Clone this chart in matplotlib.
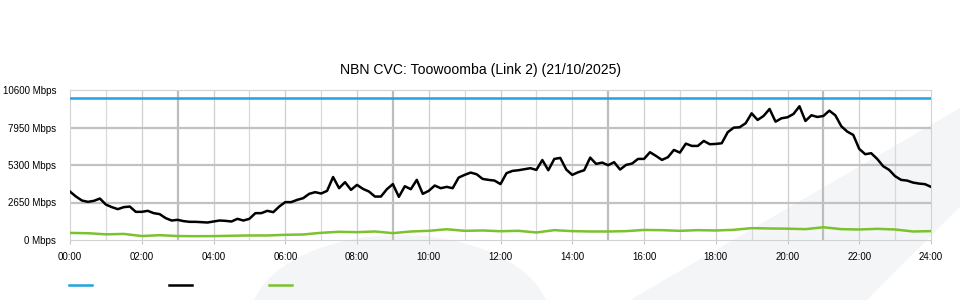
import numpy as np
import matplotlib
matplotlib.use('Agg')
import matplotlib.pyplot as plt
from matplotlib.lines import Line2D
from matplotlib.patches import Polygon, Ellipse

plt.rcParams['font.family'] = ['Liberation Sans', 'DejaVu Sans']

title = 'NBN CVC: Toowoomba (Link 2) (21/10/2025)'

# traffic, Mbps, one sample every 10 minutes from 00:00 to 24:00
traffic_in = [
    3423, 3070, 2788, 2696, 2766, 2929, 2505, 2322, 2181, 2322,
    2364, 1990, 1990, 2060, 1898, 1828, 1545, 1376, 1425, 1334,
    1284, 1284, 1263, 1236, 1307, 1377, 1354, 1307, 1495, 1377,
    1495, 1897, 1897, 2061, 1967, 2366, 2677, 2677, 2837, 2955,
    3262, 3380, 3285, 3474, 4450, 3662, 4087, 3543, 3895, 3613,
    3425, 3070, 3070, 3590, 3950, 3050, 3800, 3590, 4250, 3262,
    3473, 3848, 3660, 3755, 3660, 4411, 4601, 4764, 4649, 4319,
    4248, 4199, 3950, 4721, 4883, 4930, 5003, 5074, 4954, 5650,
    4930, 5730, 5800, 4977, 4601, 4791, 4930, 5822, 5377, 5471,
    5285, 5497, 4977, 5307, 5400, 5730, 5730, 6203, 5942, 5660,
    5850, 6365, 6175, 6810, 6648, 6648, 7000, 6768, 6789, 6838,
    7615, 7939, 7967, 8250, 8950, 8483, 8765, 9259, 8363, 8602,
    8673, 8906, 9449, 8412, 8814, 8694, 8765, 9139, 8810, 8038,
    7657, 7424, 6436, 6062, 6133, 5730, 5215, 4954, 4509, 4248,
    4199, 4058, 3987, 3945, 3755,
]
# upload, one sample every 30 minutes
traffic_out = [
    500, 480, 400, 430, 280, 340, 280, 270, 275, 300,
    320, 320, 367, 390, 508, 579, 555, 602, 484, 602,
    649, 760, 649, 673, 620, 649, 531, 696, 626, 602,
    602, 626, 710, 696, 649, 696, 673, 720, 838, 814,
    800, 767, 900, 767, 743, 790, 743, 602, 626,
]
capacity = [10000, 10000]
capacity_times = [0, 24]

in_times = np.arange(len(traffic_in)) / 6.0
out_times = np.arange(len(traffic_out)) / 2.0

y_ticks = [0, 2650, 5300, 7950, 10600]
x_ticks = list(range(0, 25, 2))
x_labels = ['{:02d}:00'.format(h) for h in x_ticks]

c_blue = '#22a3dd'
c_black = '#000000'
c_green = '#7cc12e'

fig = plt.figure(figsize=(9.6, 3.0), dpi=100)

# faint watermark shapes behind the chart (pixel coords -> figure fraction)
def px(pts):
    return [(x / 960, 1 - y / 300) for x, y in pts]

wm = '#f4f5f7'
fig.patches.append(Polygon(px([(630, 300), (960, 108), (960, 207), (867, 300)]),
                           closed=True, fc=wm, ec='none', transform=fig.transFigure, zorder=0))
fig.patches.append(Ellipse((400 / 960, 1 - 320 / 300), 300 / 960, 170 / 300,
                           fc=wm, ec='none', transform=fig.transFigure, zorder=0))

ax = fig.add_axes([70 / 960, 60 / 300, 861 / 960, 150 / 300])
ax.set_zorder(2)
ax.patch.set_alpha(0)

# grid
for h in range(1, 24):
    if h % 6 == 3:
        ax.axvline(h, color='#bdbdbd', lw=1.6, zorder=1)
    elif h % 2 == 0:
        ax.axvline(h, color='#cfcfcf', lw=0.9, zorder=1)
    else:
        ax.axvline(h, color='#d9d9d9', lw=0.9, zorder=1)
for v in y_ticks[1:-1]:
    ax.axhline(v, color='#c2c2c2', lw=1.6, zorder=1)

ax.plot(capacity_times, capacity, color=c_blue, lw=1.8, zorder=3)
ax.plot(out_times, traffic_out, color=c_green, lw=1.8, zorder=3)
ax.plot(in_times, traffic_in, color=c_black, lw=1.8, zorder=4)

ax.set_xlim(0, 24)
ax.set_ylim(0, 10600)
ax.set_xticks(x_ticks)
ax.set_xticklabels(x_labels, fontsize=7.0)
ax.set_yticks(y_ticks)
ax.set_yticklabels(['{} Mbps'.format(v) for v in y_ticks], fontsize=7.0)
ax.tick_params(axis='x', length=3, color='#c8c8c8', pad=6)
ax.tick_params(axis='y', length=0, pad=10)
for spi in ['top', 'bottom', 'left', 'right']:
    ax.spines[spi].set_color('#d2d2d2')
    ax.spines[spi].set_linewidth(0.8)

fig.text(0.5, 1 - 70 / 300, title, ha='center', va='center', fontsize=10.1)

# legend swatches (no labels in the original)
for x0, col in [(69, c_blue), (169, c_black), (269, c_green)]:
    fig.add_artist(Line2D([x0 / 960, (x0 + 23) / 960], [1 - 285 / 300] * 2,
                          color=col, lw=1.8, transform=fig.transFigure))

fig.savefig('out.png', dpi=100)
